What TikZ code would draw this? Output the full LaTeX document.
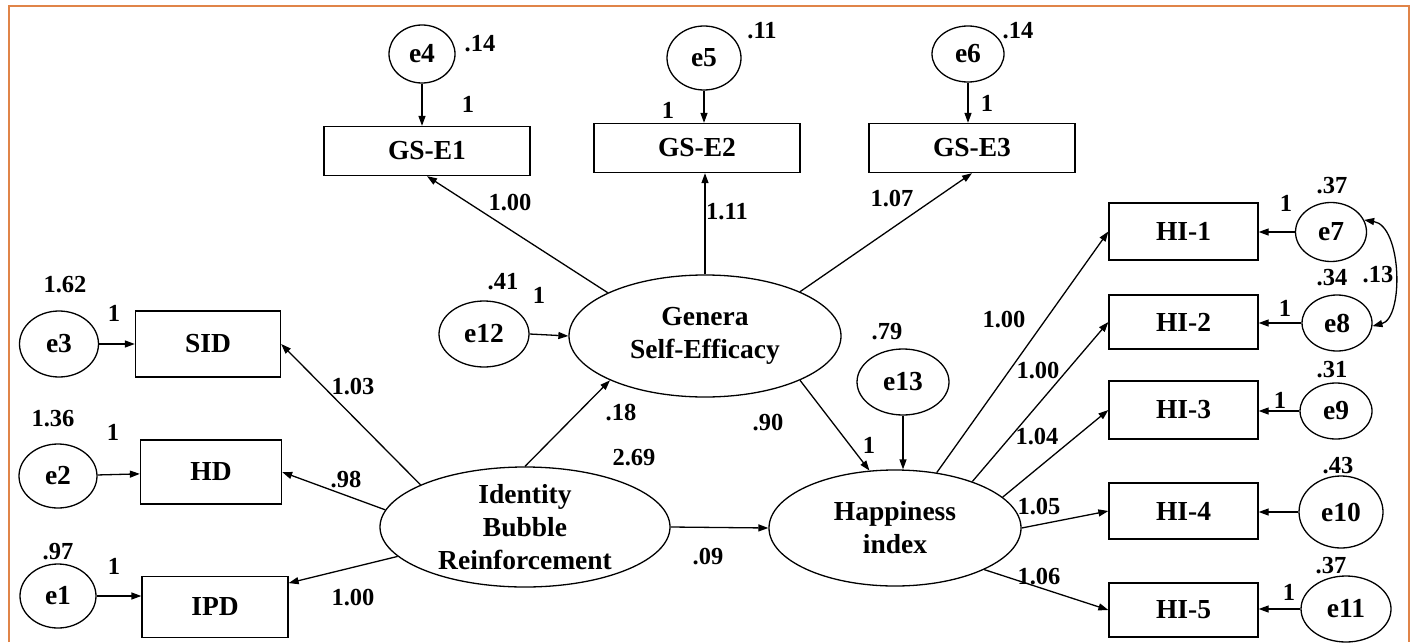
\documentclass[tikz,border=0pt]{standalone}
\usepackage{fontspec}
\setmainfont{Liberation Serif}
\usetikzlibrary{shapes.geometric,arrows.meta}
\definecolor{bordercol}{RGB}{224,132,72}
\begin{document}
\begin{tikzpicture}[x=1pt,y=-1pt,
  font=\fontsize{27.5}{33}\selectfont\bfseries,
  lat/.style={ellipse,draw,line width=1.3pt,inner sep=0pt},
  box/.style={rectangle,draw,line width=1.3pt,inner sep=0pt},
  num/.style={font=\fontsize{24.5}{26}\selectfont\bfseries,inner sep=0pt},
  arr/.style={line width=1.3pt,-{Triangle[length=10pt,width=7pt]}},
  darr/.style={line width=1.3pt,{Triangle[length=10pt,width=7pt]}-{Triangle[length=10pt,width=7pt]}},
  ctext/.style={align=center,inner sep=0pt}]
\useasboundingbox (0,0) rectangle (1412,642);
\draw[bordercol,line width=1.6pt] (9,642) -- (9,6) -- (1409,6) -- (1409,642);

% top indicators
\node[box,minimum width=206pt,minimum height=49pt] (gse1) at (427,151) {GS-E1};
\node[box,minimum width=206pt,minimum height=49pt] (gse2) at (697,148) {GS-E2};
\node[box,minimum width=206pt,minimum height=49pt] (gse3) at (972,148) {GS-E3};
\node[lat,minimum width=66pt,minimum height=58pt] (e4) at (422,54) {e4};
\node[lat,minimum width=74pt,minimum height=64pt] (e5) at (704,58) {e5};
\node[lat,minimum width=72pt,minimum height=56pt] (e6) at (968,54) {e6};

% left indicators
\node[box,minimum width=145pt,minimum height=66pt] (sid) at (208,344) {SID};
\node[box,minimum width=141pt,minimum height=64pt] (hd) at (211,472) {HD};
\node[box,minimum width=146pt,minimum height=61pt] (ipd) at (215,607) {IPD};
\node[lat,minimum width=79pt,minimum height=66pt] (e3) at (59,344) {e3};
\node[lat,minimum width=78pt,minimum height=64pt] (e2) at (58,476) {e2};
\node[lat,minimum width=76pt,minimum height=64pt] (e1) at (58,596) {e1};

% latent variables
\node[lat,minimum width=272pt,minimum height=122pt,
  label={[ctext]center:Genera\\Self-Efficacy}] (gse) at (705,336) {};
\node[lat,minimum width=290pt,minimum height=120pt,
  label={[ctext]center:Identity\\Bubble\\Reinforcement}] (ibr) at (525,527) {};
\node[lat,minimum width=252pt,minimum height=116pt,
  label={[ctext]center:Happiness\\index}] (hap) at (895,528) {};
\node[lat,minimum width=90pt,minimum height=66pt] (e12) at (484,334) {e12};
\node[lat,minimum width=92pt,minimum height=66pt] (e13) at (903,382) {e13};

% right indicators
\node[box,minimum width=149pt,minimum height=57pt] (hi1) at (1183.5,231.5) {HI-1};
\node[box,minimum width=149pt,minimum height=54pt] (hi2) at (1183.5,322) {HI-2};
\node[box,minimum width=149pt,minimum height=58pt] (hi3) at (1183.5,410) {HI-3};
\node[box,minimum width=149pt,minimum height=56pt] (hi4) at (1183.5,511) {HI-4};
\node[box,minimum width=149pt,minimum height=54pt] (hi5) at (1183.5,610) {HI-5};
\node[lat,minimum width=71pt,minimum height=59pt] (e7) at (1331,232) {e7};
\node[lat,minimum width=70pt,minimum height=56pt] (e8) at (1337,323) {e8};
\node[lat,minimum width=72pt,minimum height=56pt] (e9) at (1336,411) {e9};
\node[lat,minimum width=84pt,minimum height=72pt] (e10) at (1341,512) {e10};
\node[lat,minimum width=90pt,minimum height=66pt] (e11) at (1346,609) {e11};

% error arrows
\draw[arr] (e4.south) -- (e4.south |- gse1.north);
\draw[arr] (e5.south) -- (e5.south |- gse2.north);
\draw[arr] (e6.south) -- (e6.south |- gse3.north);
\draw[arr] (e3.east) -- (e3.east -| sid.west);
\draw[arr] (e2) -- (hd);
\draw[arr] (e1.east) -- (e1.east -| ipd.west);
\draw[arr] (e12.east) -- (gse.west);
\draw[arr] (e13.south) -- (e13.south |- hap.north);
\draw[arr] (e7.west) -- (e7.west -| hi1.east);
\draw[arr] (e8.west) -- (e8.west -| hi2.east);
\draw[arr] (e9.west) -- (e9.west -| hi3.east);
\draw[arr] (e10.west) -- (e10.west -| hi4.east);
\draw[arr] (e11.west) -- (e11.west -| hi5.east);
\draw[darr] (e7.20) .. controls (1402,226) and (1404,318) .. (e8.-5);

% loadings
\draw[arr] (gse.156) -- (gse1.south);
\draw[arr] (gse.north) -- (gse.north |- gse2.south);
\draw[arr] (gse.25) -- (gse3.south);
\draw[arr] (ibr.158) -- (sid.east);
\draw[arr] (ibr.173) -- (hd.east);
\draw[arr] (ibr.193) -- (ipd.18);
\draw[arr] (ibr.north) -- (gse.205);
\draw[arr] (ibr.east) -- (hap.west);
\draw[arr] (gse.-25) -- (hap.114);
\draw[arr] (hap.53) -- (hi1.west);
\draw[arr] (hap.31) -- (hi2.west);
\draw[arr] (hap.16) -- (hi3.west);
\draw[arr] (hap.0) -- (hi4.west);
\draw[arr] (hap.-25) -- (hi5.west);

% numbers
\node[num] (n1) at (480,44) {.14};
\node[num] (n2) at (468,104) {1};
\node[num] (n3) at (762,31) {.11};
\node[num] (n4) at (668,110) {1};
\node[num] (n5) at (1018,31) {.14};
\node[num] (n6) at (987,103) {1};
\node[num] (n7) at (510,203) {1.00};
\node[num] (n8) at (727,212) {1.11};
\node[num] (n9) at (892,199) {1.07};
\node[num] (n10) at (65,285) {1.62};
\node[num] (n11) at (114,313) {1};
\node[num] (n12) at (53,419) {1.36};
\node[num] (n13) at (113,432) {1};
\node[num] (n14) at (58,552) {.97};
\node[num] (n15) at (114,566) {1};
\node[num] (n16) at (353,387) {1.03};
\node[num] (n17) at (346,480) {.98};
\node[num] (n18) at (353,598) {1.00};
\node[num] (n19) at (503,282) {.41};
\node[num] (n20) at (539,295) {1};
\node[num] (n21) at (621,413) {.18};
\node[num] (n22) at (634,458) {2.69};
\node[num] (n23) at (708,557) {.09};
\node[num] (n24) at (768,423) {.90};
\node[num] (n25) at (869,445) {1};
\node[num] (n26) at (887,332) {.79};
\node[num] (n27) at (1332,186) {.37};
\node[num] (n28) at (1286,203) {1};
\node[num] (n29) at (1332,278) {.34};
\node[num] (n30) at (1378,275) {.13};
\node[num] (n31) at (1285,308) {1};
\node[num] (n32) at (1332,370) {.31};
\node[num] (n33) at (1280,400) {1};
\node[num] (n34) at (1004,320) {1.00};
\node[num] (n35) at (1038,371) {1.00};
\node[num] (n36) at (1037,437) {1.04};
\node[num] (n37) at (1039,507) {1.05};
\node[num] (n38) at (1039,577) {1.06};
\node[num] (n39) at (1338,466) {.43};
\node[num] (n40) at (1331,566) {.37};
\node[num] (n41) at (1289,592) {1};
\end{tikzpicture}
\end{document}
